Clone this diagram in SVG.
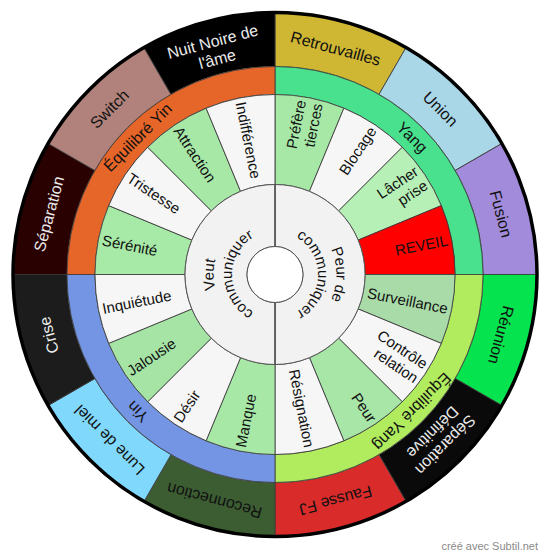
<svg xmlns="http://www.w3.org/2000/svg" xmlns:xlink="http://www.w3.org/1999/xlink" width="550" height="559" viewBox="0 0 550 559" font-family="'Liberation Sans', Arial, sans-serif">
<style>
.ln{stroke:#3a3a3a;stroke-width:0.8}
.ot{font-size:16px;text-anchor:middle;fill:#111}
.wt{fill:#ececec}
.st{font-size:15px;fill:#111}
.se{text-anchor:end}
.ss{text-anchor:start}
.it{font-size:15px;fill:#111;text-anchor:middle}
</style>
<defs>
<path id="o30" d="M0,-262 A262,262 0 0 1 131,-226.899 L104,-180.133 A208,208 0 0 0 0,-208 Z"/>
<path id="m90" d="M0,-208 A208,208 0 0 1 208,0 L180,0 A180,180 0 0 0 0,-180 Z"/>
<path id="s22" d="M0,-180 A180,180 0 0 1 68.883,-166.298 L34.441,-83.149 A90,90 0 0 0 0,-90 Z"/>
<path id="h180" d="M0,-90 A90,90 0 0 1 0,90 L0,28 A28,28 0 0 0 0,-28 Z"/>
<path id="arcR1" d="M0,-61.5 A61.5,61.5 0 0 1 0,61.5"/>
<path id="arcR2" d="M0,-43 A43,43 0 0 1 0,43"/>
<path id="arcL1" d="M0,61.5 A61.5,61.5 0 0 1 0,-61.5"/>
<path id="arcL2" d="M0,43 A43,43 0 0 1 0,-43"/>
</defs>
<g transform="translate(275 274.5)">
<g id="outer-ring">
<g id="retrouvailles"><use href="#o30" class="ln" fill="#cfb733"/><text class="ot" transform="rotate(15) translate(0,-234)" y="5.5">Retrouvailles</text></g>
<g id="union"><use href="#o30" class="ln" fill="#a9d7e7" transform="rotate(30)"/><text class="ot" transform="rotate(45) translate(0,-234)" y="5.5">Union</text></g>
<g id="fusion"><use href="#o30" class="ln" fill="#a28bdb" transform="rotate(60)"/><text class="ot" transform="rotate(75) translate(0,-234)" y="5.5">Fusion</text></g>
<g id="reunion"><use href="#o30" class="ln" fill="#05e34e" transform="rotate(90)"/><text class="ot" transform="rotate(105) translate(0,-234)" y="5.5">Réunion</text></g>
<g id="separation-definitive"><use href="#o30" class="ln" fill="#0a0a0a" transform="rotate(120)"/><text class="ot wt" transform="rotate(135) translate(0,-232)"><tspan x="0" y="-3.5">Séparation</tspan><tspan x="0" y="14.5">Définitive</tspan></text></g>
<g id="fausse-fj"><use href="#o30" class="ln" fill="#da2b2b" transform="rotate(150)"/><text class="ot" transform="rotate(165) translate(0,-234)" y="5.5">Fausse FJ</text></g>
<g id="reconnection"><use href="#o30" class="ln" fill="#3b5d31" transform="rotate(180)"/><text class="ot" transform="rotate(195) translate(0,-234)" y="5.5">Reconnection</text></g>
<g id="lune-de-miel"><use href="#o30" class="ln" fill="#80d9fd" transform="rotate(210)"/><text class="ot" transform="rotate(225) translate(0,-234)" y="5.5">Lune de miel</text></g>
<g id="crise"><use href="#o30" class="ln" fill="#1b1c1b" transform="rotate(240)"/><text class="ot wt" transform="rotate(255) translate(0,-234)" y="5.5">Crise</text></g>
<g id="separation"><use href="#o30" class="ln" fill="#2a0101" transform="rotate(270)"/><text class="ot wt" transform="rotate(285) translate(0,-234)" y="5.5">Séparation</text></g>
<g id="switch"><use href="#o30" class="ln" fill="#b0827b" transform="rotate(300)"/><text class="ot" transform="rotate(315) translate(0,-234)" y="5.5">Switch</text></g>
<g id="nuit-noire"><use href="#o30" class="ln" fill="#000000" transform="rotate(330)"/><text class="ot wt" transform="rotate(345) translate(0,-232)"><tspan x="0" y="-3.5">Nuit Noire de</tspan><tspan x="0" y="14.5">l'âme</tspan></text></g>
</g>
<g id="middle-ring">
<g id="yang"><use href="#m90" class="ln" fill="#49e08e"/><text class="ot" transform="rotate(45) translate(0,-194)" y="5.5">Yang</text></g>
<g id="equilibre-yang"><use href="#m90" class="ln" fill="#b0ec5e" transform="rotate(90)"/><text class="ot" transform="rotate(135) translate(0,-194)" y="5.5">Équilibré Yang</text></g>
<g id="yin"><use href="#m90" class="ln" fill="#7395e3" transform="rotate(180)"/><text class="ot" transform="rotate(225) translate(0,-194)" y="5.5">Yin</text></g>
<g id="equilibre-yin"><use href="#m90" class="ln" fill="#e66528" transform="rotate(270)"/><text class="ot" transform="rotate(315) translate(0,-194)" y="5.5">Équilibré Yin</text></g>
</g>
<g id="segments">
<g id="prefere-tierces"><use href="#s22" class="ln" fill="#a7e8a7"/><text class="st se" transform="rotate(11.25) translate(0,-176) rotate(-90)"><tspan x="0" y="-3.3">Préfère</tspan><tspan x="0" y="13.7">tierces</tspan></text></g>
<g id="blocage"><use href="#s22" class="ln" fill="#f5f6f5" transform="rotate(22.5)"/><text class="st se" transform="rotate(33.75) translate(0,-176) rotate(-90)" y="5.2">Blocage</text></g>
<g id="lacher-prise"><use href="#s22" class="ln" fill="#b7f0b7" transform="rotate(45)"/><text class="st se" transform="rotate(56.25) translate(0,-176) rotate(-90)"><tspan x="0" y="-3.3">Lâcher</tspan><tspan x="0" y="13.7">prise</tspan></text></g>
<g id="reveil"><use href="#s22" class="ln" fill="#ff0000" transform="rotate(67.5)"/><text class="st se" transform="rotate(78.75) translate(0,-176) rotate(-90)" y="5.2">REVEIL</text></g>
<g id="surveillance"><use href="#s22" class="ln" fill="#a9dba9" transform="rotate(90)"/><text class="st se" transform="rotate(101.25) translate(0,-176) rotate(-90)" y="5.2">Surveillance</text></g>
<g id="controle-relation"><use href="#s22" class="ln" fill="#f5f6f5" transform="rotate(112.5)"/><text class="st se" transform="rotate(123.75) translate(0,-176) rotate(-90)"><tspan x="0" y="-3.3">Contrôle</tspan><tspan x="0" y="13.7">relation</tspan></text></g>
<g id="peur"><use href="#s22" class="ln" fill="#a8e6a8" transform="rotate(135)"/><text class="st se" transform="rotate(146.25) translate(0,-176) rotate(-90)" y="5.2">Peur</text></g>
<g id="resignation"><use href="#s22" class="ln" fill="#f5f6f5" transform="rotate(157.5)"/><text class="st se" transform="rotate(168.75) translate(0,-176) rotate(-90)" y="5.2">Résignation</text></g>
<g id="manque"><use href="#s22" class="ln" fill="#a7e8a7" transform="rotate(180)"/><text class="st ss" transform="rotate(191.25) translate(0,-176) rotate(90)" y="5.2">Manque</text></g>
<g id="desir"><use href="#s22" class="ln" fill="#f5f6f5" transform="rotate(202.5)"/><text class="st ss" transform="rotate(213.75) translate(0,-176) rotate(90)" y="5.2">Désir</text></g>
<g id="jalousie"><use href="#s22" class="ln" fill="#a6e4a6" transform="rotate(225)"/><text class="st ss" transform="rotate(236.25) translate(0,-176) rotate(90)" y="5.2">Jalousie</text></g>
<g id="inquietude"><use href="#s22" class="ln" fill="#f5f6f5" transform="rotate(247.5)"/><text class="st ss" transform="rotate(258.75) translate(0,-176) rotate(90)" y="5.2">Inquiétude</text></g>
<g id="serenite"><use href="#s22" class="ln" fill="#a7e9a7" transform="rotate(270)"/><text class="st ss" transform="rotate(281.25) translate(0,-176) rotate(90)" y="5.2">Sérénité</text></g>
<g id="tristesse"><use href="#s22" class="ln" fill="#f5f6f5" transform="rotate(292.5)"/><text class="st ss" transform="rotate(303.75) translate(0,-176) rotate(90)" y="5.2">Tristesse</text></g>
<g id="attraction"><use href="#s22" class="ln" fill="#a7e8a7" transform="rotate(315)"/><text class="st ss" transform="rotate(326.25) translate(0,-176) rotate(90)" y="5.2">Attraction</text></g>
<g id="indifference"><use href="#s22" class="ln" fill="#f5f6f5" transform="rotate(337.5)"/><text class="st ss" transform="rotate(348.75) translate(0,-176) rotate(90)" y="5.2">Indifférence</text></g>
</g>
<g id="inner">
<g id="peur-de-communiquer"><use href="#h180" fill="#f2f2f2" stroke="#555" stroke-width="1"/><text class="it"><textPath href="#arcR1" startOffset="50%">Peur de</textPath></text><text class="it"><textPath href="#arcR2" startOffset="50%">communiquer</textPath></text></g>
<g id="veut-communiquer"><use href="#h180" fill="#f2f2f2" stroke="#555" stroke-width="1" transform="rotate(180)"/><text class="it"><textPath href="#arcL1" startOffset="50%">Veut</textPath></text><text class="it"><textPath href="#arcL2" startOffset="50%">communiquer</textPath></text></g>
<circle id="hub" r="28" fill="#ffffff" stroke="#555" stroke-width="1"/>
</g>
<g id="connectors" stroke="#555" stroke-width="1.5">
<line x1="0" y1="-90" x2="0" y2="-28"/>
<line x1="0" y1="28" x2="0" y2="90"/>
</g>
<circle r="262" fill="none" stroke="#000" stroke-width="3.5"/>
</g>
<text x="538" y="550" font-size="11" fill="#8a8a8a" text-anchor="end">créé avec Subtil.net</text>
</svg>
